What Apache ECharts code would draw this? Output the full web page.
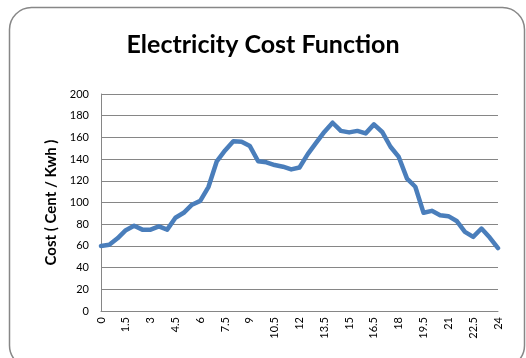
<!DOCTYPE html>
<html>
<head>
<meta charset="utf-8">
<script src="https://cdn.jsdelivr.net/npm/echarts@6/dist/echarts.min.js"></script>
<style>
html,body{margin:0;padding:0;background:#fff;}
#c{width:526px;height:358px;}
</style>
</head>
<body>
<div id="c"></div>
<script>
var hours = ["0","0.5","1","1.5","2","2.5","3","3.5","4","4.5","5","5.5","6","6.5","7","7.5","8","8.5","9","9.5","10","10.5","11","11.5","12","12.5","13","13.5","14","14.5","15","15.5","16","16.5","17","17.5","18","18.5","19","19.5","20","20.5","21","21.5","22","22.5","23","23.5","24"];
var cost = [60,61,67,74.5,78.5,75,75,78,75,86,90.5,98,101.5,114.5,138,148,156.5,156,152,138,137,134.5,133,130.5,132.3,144.6,155,165,173.5,166,164.6,166,163.7,172,165,151.4,142,122,114.5,90.5,92.3,88.3,87.4,83,73,68.3,76,67.7,58];
var yTicks = {min:0, max:200, interval:20};
var titleText = "Electricity Cost Function";
var yName = "Cost ( Cent / Kwh )";

var chart = echarts.init(document.getElementById('c'), null, {renderer:'canvas'});
chart.setOption({
  backgroundColor:'#fff',
  animation:false,
  textStyle:{fontFamily:'Lato'},
  graphic:[{
    type:'rect', left:7, top:5,
    shape:{width:515, height:360, r:22},
    style:{fill:'none', stroke:'#878787', lineWidth:1.5},
    silent:true
  }],
  title:{
    text:titleText, left:'center', top:27,
    textStyle:{fontFamily:'Lato', fontWeight:'bold', fontSize:25, color:'#000'}
  },
  grid:{left:101, top:94, width:397, height:217, containLabel:false},
  xAxis:{
    type:'category', data:hours, boundaryGap:false,
    axisLine:{show:true, lineStyle:{color:'#868686', width:1}},
    axisTick:{show:false},
    splitLine:{show:false},
    axisLabel:{interval:2, rotate:90, fontSize:11, color:'#000', margin:6, fontFamily:'Lato'}
  },
  yAxis:{
    type:'value', min:yTicks.min, max:yTicks.max, interval:yTicks.interval,
    name:yName, nameLocation:'middle', nameGap:42, nameRotate:90,
    nameTextStyle:{fontFamily:'Lato', fontWeight:'bold', fontSize:15, color:'#000'},
    axisLine:{show:true, lineStyle:{color:'#868686', width:1}},
    axisTick:{show:false},
    splitLine:{show:true, lineStyle:{color:'#868686', width:1}},
    axisLabel:{fontSize:11, color:'#000', margin:12, fontFamily:'Lato'}
  },
  series:[{
    type:'line', data:cost, showSymbol:false, smooth:false,
    lineStyle:{color:'#4a7ebb', width:4.5, join:'round', cap:'round'}
  }]
});
</script>
</body>
</html>
